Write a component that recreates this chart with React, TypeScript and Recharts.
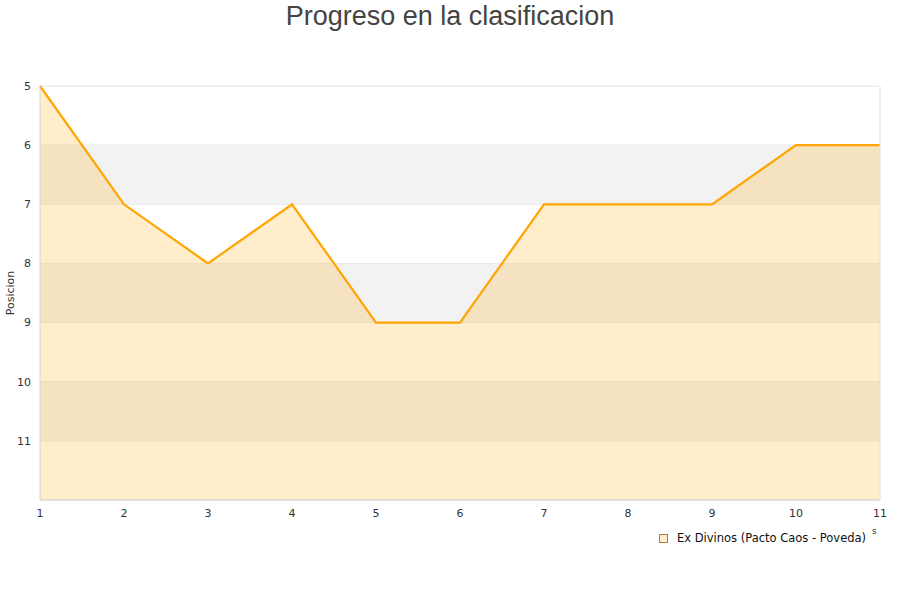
import React from 'react';
import { ComposedChart, Area, XAxis, YAxis, CartesianGrid, ReferenceArea, ReferenceLine } from 'recharts';

const jornadas = [1, 2, 3, 4, 5, 6, 7, 8, 9, 10, 11];
const posiciones = [5, 7, 8, 7, 9, 9, 7, 7, 7, 6, 6];
const yTicks = [5, 6, 7, 8, 9, 10, 11];
const bandas = [[6, 7], [8, 9], [10, 11]];
const serieNombre = 'Ex Divinos (Pacto Caos - Poveda)';

const data = jornadas.map((j, i) => ({ jornada: j, pos: posiciones[i] }));

const font = 'DejaVu Sans, sans-serif';

const App: React.FC = () => {
  return (
    <div style={{ position: 'absolute', left: 0, top: 0, width: 900, height: 600, background: '#fff', fontFamily: font }}>
      <div style={{ position: 'absolute', left: 0, top: 0, width: 900, textAlign: 'center', fontFamily: '"Liberation Sans", Arial, sans-serif', fontSize: 27, color: '#444', lineHeight: '32px' }}>
        Progreso en la clasificacion
      </div>
      <ComposedChart width={900} height={600} data={data} margin={{ top: 86, right: 20, left: 0, bottom: 0 }}>
        {bandas.map(([a, b], i) => (
          <ReferenceArea key={i} y1={a} y2={b} fill="#f2f2f2" fillOpacity={1} stroke="none" ifOverflow="visible" />
        ))}
        <CartesianGrid vertical={false} stroke="#e2e2e2" strokeWidth={1} />
        <ReferenceLine x={11} stroke="#e0e0e0" />
        <XAxis
          dataKey="jornada"
          type="number"
          domain={[1, 11]}
          ticks={jornadas}
          height={100}
          tickLine={false}
          axisLine={{ stroke: '#d4d4d4' }}
          tick={{ fontSize: 11, fill: '#333', fontFamily: font }}
          tickMargin={3}
        />
        <YAxis
          type="number"
          reversed
          domain={[5, 12]}
          ticks={yTicks}
          width={40}
          tickLine={false}
          axisLine={{ stroke: '#d4d4d4' }}
          tick={{ fontSize: 11, fill: '#333', fontFamily: font }}
          tickMargin={3}
        />
        <Area
          type="linear"
          dataKey="pos"
          baseValue="dataMax"
          stroke="#ffa500"
          strokeWidth={2.2}
          fill="#ffa500"
          fillOpacity={0.2}
          dot={false}
          activeDot={false}
          isAnimationActive={false}
        />
      </ComposedChart>
      <div style={{ position: 'absolute', left: 11 - 40, top: 293 - 8, width: 80, height: 16, textAlign: 'center', fontSize: 11, color: '#333', lineHeight: '16px', transform: 'rotate(-90deg)' }}>
        Posicion
      </div>
      <div style={{ position: 'absolute', left: 659, top: 534, width: 7, height: 7, background: '#ffedcc', border: '1px solid #a08050' }} />
      <div style={{ position: 'absolute', left: 677, top: 530, fontSize: 11.5, color: '#111', lineHeight: '16px', whiteSpace: 'nowrap' }}>
        {serieNombre}
      </div>
      <div style={{ position: 'absolute', left: 872, top: 525, fontSize: 9, color: '#333', lineHeight: '12px' }}>s</div>
    </div>
  );
};

export default App;
